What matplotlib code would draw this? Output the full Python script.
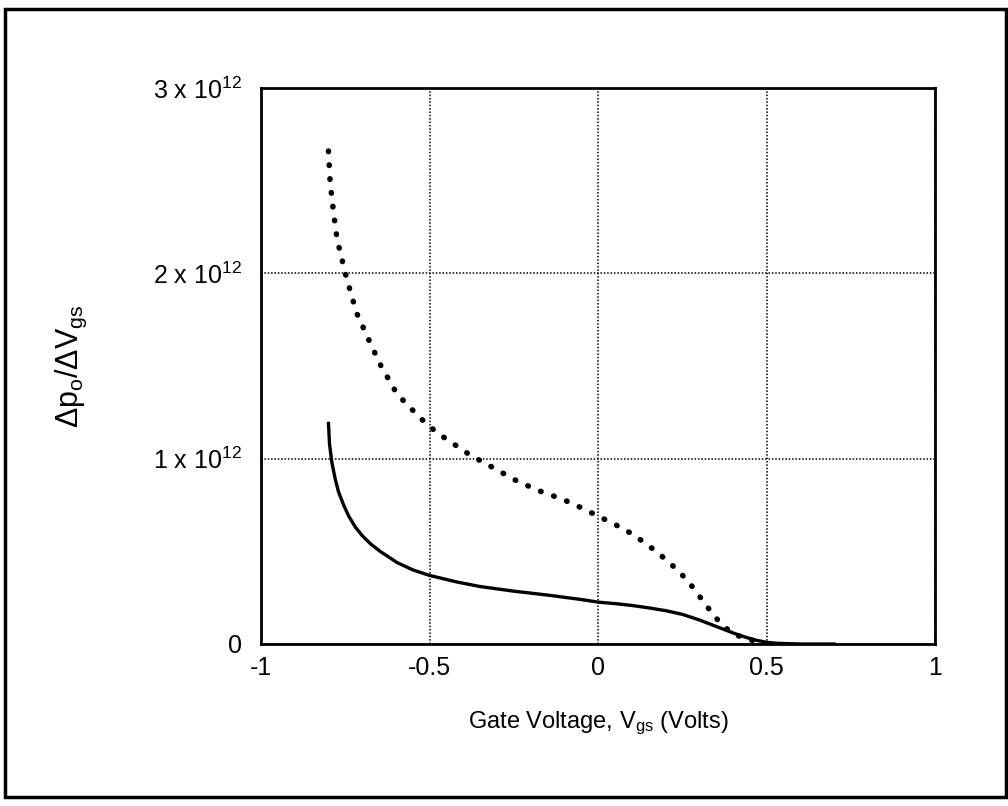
import matplotlib
matplotlib.use("Agg")
import matplotlib.pyplot as plt
from matplotlib.patches import Rectangle

plt.rcParams['font.family'] = ['Liberation Sans', 'DejaVu Sans']
plt.rcParams['mathtext.default'] = 'regular'

# solid curve
vgs_solid = [-0.80, -0.797, -0.79, -0.78, -0.77, -0.755, -0.74, -0.72, -0.70,
             -0.675, -0.647, -0.62, -0.597, -0.55, -0.5, -0.42, -0.35, -0.25,
             -0.15, -0.05, 0.0, 0.05, 0.10, 0.15, 0.20, 0.25, 0.30, 0.35, 0.40,
             0.44, 0.47, 0.50, 0.53, 0.6, 0.7]
dp_solid = [1.19, 1.08, 0.98, 0.89, 0.82, 0.75, 0.69, 0.63, 0.585,
            0.54, 0.50, 0.468, 0.44, 0.40, 0.37, 0.335, 0.31, 0.285,
            0.264, 0.24, 0.226, 0.218, 0.208, 0.195, 0.18, 0.16, 0.13, 0.095, 0.06,
            0.035, 0.02, 0.009, 0.004, 0.0, 0.0]

# dotted curve
vgs_dot = [-0.80, -0.795, -0.785, -0.775, -0.762, -0.75, -0.73, -0.715, -0.68,
           -0.647, -0.597, -0.528, -0.478, -0.38, -0.30, -0.252, -0.18, -0.104,
           -0.05, 0.0, 0.05, 0.086, 0.12, 0.154, 0.185, 0.214, 0.24, 0.264, 0.29,
           0.312, 0.341, 0.362, 0.38, 0.40, 0.43, 0.46, 0.50]
dp_dot = [2.66, 2.49, 2.33, 2.19, 2.09, 2.0, 1.87, 1.78, 1.64,
          1.51, 1.35, 1.22, 1.14, 1.02, 0.94, 0.89, 0.83, 0.78,
          0.735, 0.69, 0.645, 0.61, 0.57, 0.525, 0.48, 0.435, 0.39, 0.345, 0.285,
          0.23, 0.16, 0.115, 0.085, 0.055, 0.035, 0.018, 0.0]

xticks = [-1, -0.5, 0, 0.5, 1]
xticklabels = ['-1', '-0.5', '0', '0.5', '1']
yticks = [0, 1, 2, 3]
yticklabels = ['0', '1 x 10$^{12}$', '2 x 10$^{12}$', '3 x 10$^{12}$']

fig = plt.figure(figsize=(10.08, 8.06), dpi=100)
ax = fig.add_axes([0.259, 0.201, 0.6687, 0.6898])

ax.plot(vgs_solid, dp_solid, color='black', lw=2.4, solid_joinstyle='round')
ax.plot(vgs_dot, dp_dot, color='black', lw=4.0, linestyle=(0, (0.1, 2.4)),
        dash_capstyle='round')

ax.set_xlim(-1, 1)
ax.set_ylim(0, 3)
ax.set_xticks(xticks)
ax.set_xticklabels(xticklabels)
ax.set_yticks(yticks)
ax.set_yticklabels(yticklabels)
ax.tick_params(length=0, labelsize=18, pad=9)
ax.tick_params(axis='y', pad=14)

ax.grid(True, color='black', linestyle=(0, (1, 1.2)), lw=1.1)
for s in ax.spines.values():
    s.set_linewidth(2)

ax.set_xlabel('Gate Voltage, V$_{gs}$ (Volts)', fontsize=17, labelpad=21)
ax.set_ylabel('\u0394p$_o$/\u0394V$_{gs}$', fontsize=22, labelpad=46)

# outer frame
fig.patches.append(Rectangle((0.005, 0.011), 0.993, 0.978, transform=fig.transFigure,
                             fill=False, edgecolor='black', lw=2.5))

fig.savefig('out.png', dpi=100)
